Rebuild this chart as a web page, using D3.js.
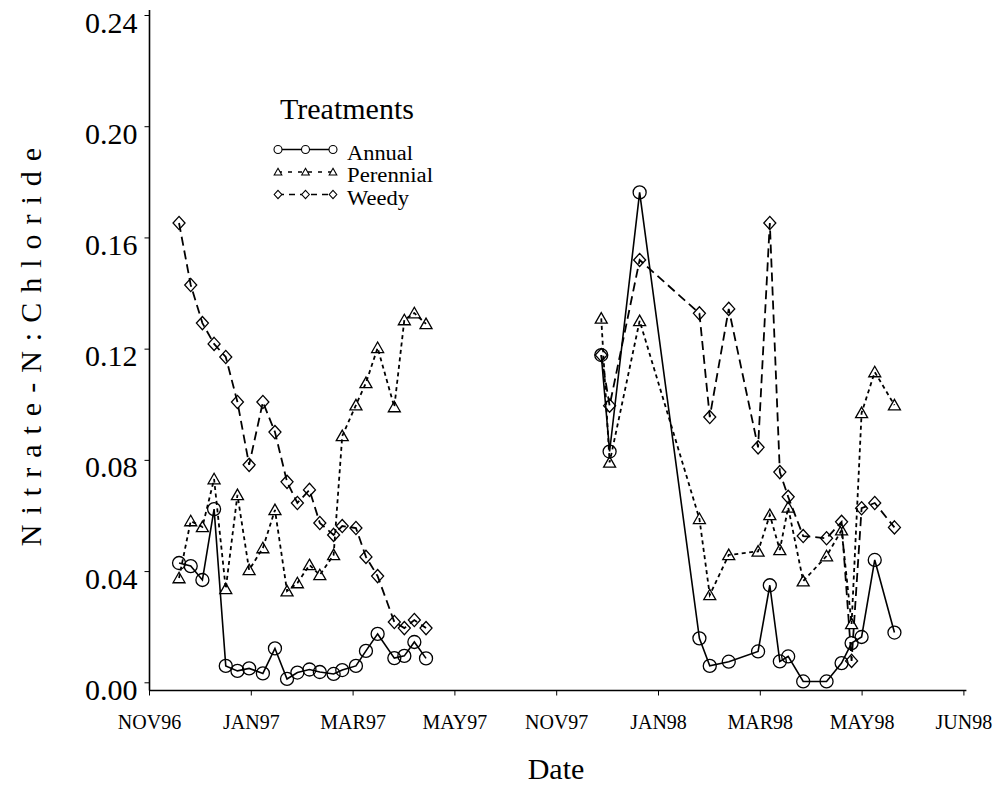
<!DOCTYPE html>
<html>
<head>
<meta charset="utf-8">
<script src="https://cdn.jsdelivr.net/npm/d3@7"></script>
<style>
  html, body { margin: 0; padding: 0; background: #fff; }
  svg { display: block; }
  text { font-family: "Liberation Serif", "Times New Roman", serif; fill: #000; }
</style>
</head>
<body>
<svg id="chart" width="995" height="787"></svg>
<script>
// Sampling dates, winter 1996-97
const dates96 = [
  "1996-11-19", "1996-11-26", "1996-12-03", "1996-12-10", "1996-12-17", "1996-12-24",
  "1996-12-31", "1997-01-08", "1997-01-15", "1997-01-22", "1997-01-28", "1997-02-04",
  "1997-02-10", "1997-02-18", "1997-02-23", "1997-03-03", "1997-03-09", "1997-03-16",
  "1997-03-26", "1997-04-01", "1997-04-07", "1997-04-14"
];
const annual96 = [0.0429, 0.0418, 0.0368, 0.0623, 0.0059, 0.0041, 0.0050, 0.0032, 0.0122, 0.0012, 0.0035,
  0.0046, 0.0037, 0.0030, 0.0044, 0.0059, 0.0113, 0.0174, 0.0087, 0.0095, 0.0145, 0.0086];
const perennial96 = [0.0375, 0.0580, 0.0559, 0.0731, 0.0336, 0.0674, 0.0404, 0.0483, 0.0620, 0.0328, 0.0357,
  0.0422, 0.0386, 0.0458, 0.0886, 0.0997, 0.1077, 0.1203, 0.0990, 0.1303, 0.1328, 0.1289];
const weedy96 = [0.1652, 0.1429, 0.1292, 0.1217, 0.1170, 0.1008, 0.0782, 0.1008, 0.0900, 0.0721, 0.0645,
  0.0692, 0.0573, 0.0530, 0.0562, 0.0555, 0.0451, 0.0382, 0.0217, 0.0195, 0.0224, 0.0195];

// Sampling dates, winter 1997-98
const dates98 = [
  "1997-11-28", "1997-12-03", "1997-12-21", "1998-01-25", "1998-01-31", "1998-02-11",
  "1998-02-28", "1998-03-07", "1998-03-13", "1998-03-18", "1998-03-27", "1998-04-10",
  "1998-04-19", "1998-04-25", "1998-05-01", "1998-05-05", "1998-05-11"
];
const annual98 = [0.1177, 0.0830, 0.1762, 0.0158, 0.0059, 0.0074, 0.0111, 0.0349, 0.0075, 0.0093, 0.0003,
  0.0003, 0.0069, 0.0141, 0.0163, 0.0440, 0.0179];
const perennial98 = [0.1309, 0.0791, 0.1300, 0.0588, 0.0314, 0.0458, 0.0471, 0.0602, 0.0476, 0.0629, 0.0364,
  0.0454, 0.0547, 0.0210, 0.0969, 0.1116, 0.0997];
const weedy98 = [0.1177, 0.0995, 0.1519, 0.1327, 0.0954, 0.1343, 0.0845, 0.1652, 0.0756, 0.0667, 0.0526,
  0.0518, 0.0577, 0.0077, 0.0626, 0.0645, 0.0557];

// Axis ticks (the date axis is broken between the two seasons)
const tickDates = ["1996-11-01", "1997-01-01", "1997-03-01", "1997-05-01", "1997-11-01",
  "1998-01-01", "1998-03-01", "1998-05-01", "1998-06-01"];
const tickLabels = ["NOV96", "JAN97", "MAR97", "MAY97", "NOV97", "JAN98", "MAR98", "MAY98", "JUN98"];
const yTicks = [0, 0.04, 0.08, 0.12, 0.16, 0.20, 0.24];

const seriesNames = ["Annual", "Perennial", "Weedy"];

const parse = d3.timeParse("%Y-%m-%d");
const svg = d3.select("#chart");

const left = 149, right = 963.4, axisY = 690.5;
const tickStep = (right - left) / (tickDates.length - 1);
const x = d3.scaleTime()
  .domain(tickDates.map(parse))
  .range(tickDates.map((d, i) => left + i * tickStep));
const y = d3.scaleLinear().domain([0, 0.24]).range([682.3, 15]);

// ---- axes ----
svg.append("line")
  .attr("x1", left + 0.5).attr("x2", left + 0.5)
  .attr("y1", 10).attr("y2", axisY)
  .attr("stroke", "#000").attr("stroke-width", 1.6);
svg.append("line")
  .attr("x1", left).attr("x2", right + 3)
  .attr("y1", axisY).attr("y2", axisY)
  .attr("stroke", "#000").attr("stroke-width", 1.4);

const yAxis = d3.axisLeft(y).tickValues(yTicks).tickFormat(d3.format(".2f")).tickSize(5).tickSizeOuter(0);
const gy = svg.append("g").attr("transform", `translate(${left + 0.5},0)`).call(yAxis);
gy.select(".domain").remove();
gy.selectAll(".tick line").attr("stroke-width", 1);
gy.selectAll(".tick text")
  .attr("x", -12).attr("dy", 17)
  .style("font-size", "30px").style("font-family", "'Liberation Serif', serif");

const xAxis = d3.axisBottom(x)
  .tickValues(tickDates.map(parse))
  .tickFormat((d, i) => tickLabels[i])
  .tickSize(5).tickSizeOuter(0);
const gx = svg.append("g").attr("transform", `translate(0,${axisY})`).call(xAxis);
gx.select(".domain").remove();
gx.selectAll(".tick line").attr("stroke-width", 1);
gx.selectAll(".tick text")
  .attr("y", 0).attr("dy", 38)
  .style("font-size", "20px").style("font-family", "'Liberation Serif', serif");

// ---- axis titles ----
svg.append("text")
  .attr("x", 556).attr("y", 779)
  .attr("text-anchor", "middle")
  .style("font-size", "30px")
  .text("Date");

svg.append("text")
  .attr("transform", "translate(41,342) rotate(-90)")
  .attr("text-anchor", "middle")
  .style("font-size", "30px")
  .style("letter-spacing", "10px")
  .text("Nitrate-N:Chloride");

// ---- marker shapes ----
function marker(kind, s) {
  if (kind === "Annual") {
    const p = d3.path();
    p.moveTo(s, 0);
    p.arc(0, 0, s, 0, 2 * Math.PI);
    return p.toString();
  }
  if (kind === "Perennial") {
    const h = s * 1.75;
    return `M0,${-h * 0.55}L${s},${h * 0.45}L${-s},${h * 0.45}Z`;
  }
  return `M0,${-s * 1.1}L${s},0L0,${s * 1.1}L${-s},0Z`;
}

const styles = {
  Annual: { dash: null, width: 1.6, size: 6.5 },
  Perennial: { dash: "4,3.5", width: 1.8, size: 6 },
  Weedy: { dash: "9,5", width: 1.8, size: 6 }
};

const periods = [
  { dates: dates96, values: { Annual: annual96, Perennial: perennial96, Weedy: weedy96 } },
  { dates: dates98, values: { Annual: annual98, Perennial: perennial98, Weedy: weedy98 } }
];

const line = d3.line().x(d => x(d.date)).y(d => y(d.value));
const plot = svg.append("g");

periods.forEach(per => {
  const ds = per.dates.map(parse);
  ["Weedy", "Perennial", "Annual"].forEach(name => {
    const pts = per.values[name].map((v, i) => ({ date: ds[i], value: v }));
    const st = styles[name];
    plot.append("path")
      .datum(pts)
      .attr("d", line)
      .attr("fill", "none")
      .attr("stroke", "#000")
      .attr("stroke-width", st.width)
      .attr("stroke-dasharray", st.dash);
    plot.selectAll(null)
      .data(pts)
      .enter().append("path")
      .attr("transform", d => `translate(${x(d.date)},${y(d.value)})`)
      .attr("d", marker(name, st.size))
      .attr("fill", "none")
      .attr("stroke", "#000")
      .attr("stroke-width", 1.3);
  });
});

// ---- legend ----
const legend = svg.append("g");
legend.append("text")
  .attr("x", 280).attr("y", 119)
  .style("font-size", "30px")
  .text("Treatments");

seriesNames.forEach((name, i) => {
  const st = styles[name];
  const base = 159.5 + i * 22.5;
  const my = base - 10;
  legend.append("line")
    .attr("x1", 278).attr("x2", 333)
    .attr("y1", my).attr("y2", my)
    .attr("stroke", "#000")
    .attr("stroke-width", 1.4)
    .attr("stroke-dasharray", st.dash ? (name === "Perennial" ? "4,6" : "6,5") : null);
  [278, 305.5, 333].forEach(mx => {
    legend.append("path")
      .attr("transform", `translate(${mx},${my})`)
      .attr("d", marker(name, name === "Annual" ? 4 : 3.8))
      .attr("fill", "#fff")
      .attr("stroke", "#000")
      .attr("stroke-width", 1.1);
  });
  legend.append("text")
    .attr("x", 347).attr("y", base)
    .style("font-size", "20px")
    .attr("textLength", name === "Annual" ? 66 : name === "Perennial" ? 86 : 62)
    .attr("lengthAdjust", "spacingAndGlyphs")
    .text(name);
});
</script>
</body>
</html>
